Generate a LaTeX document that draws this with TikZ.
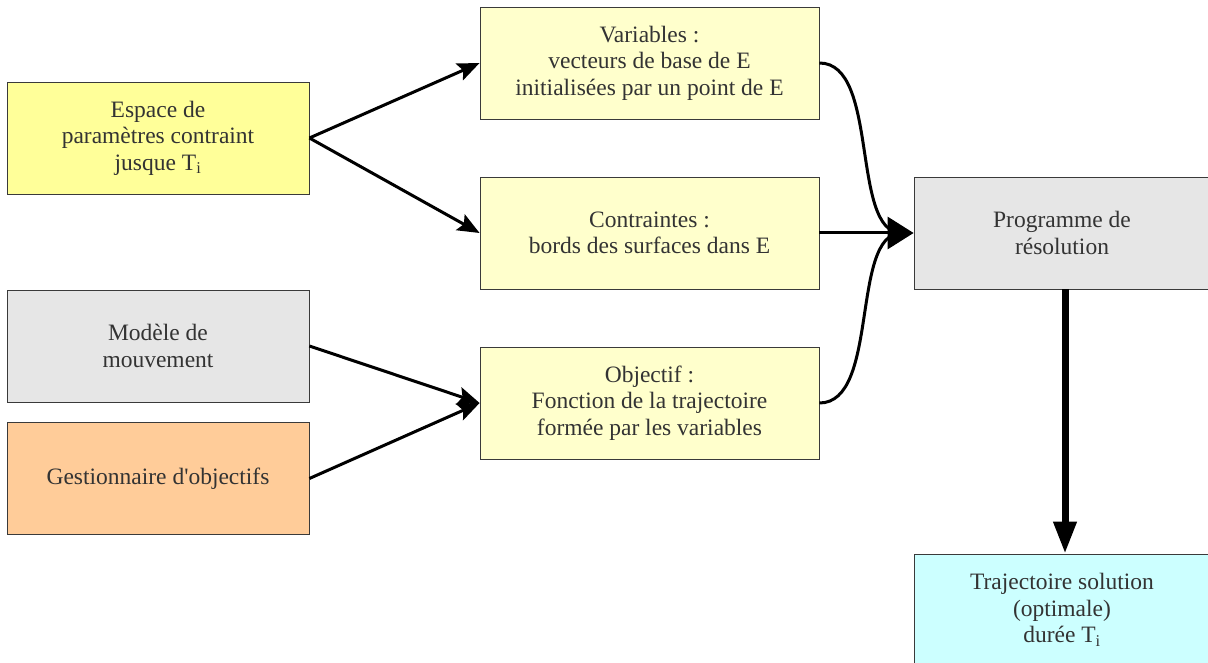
\documentclass[tikz,border=0pt]{standalone}
\usepackage{fontspec}
\setmainfont{Liberation Serif}
\usetikzlibrary{arrows.meta}
\definecolor{txt}{HTML}{333333}
\definecolor{bord}{HTML}{3A3A3A}
\definecolor{yel}{HTML}{FFFF99}
\definecolor{lyel}{HTML}{FFFFCC}
\definecolor{gry}{HTML}{E6E6E6}
\definecolor{org}{HTML}{FFCC99}
\definecolor{cyn}{HTML}{CCFFFF}
\tikzset{
  box/.style={draw=bord, line width=0.8pt, rectangle, minimum width=302pt, minimum height=112pt,
    inner sep=0pt, align=center, text=txt, font=\fontsize{23.5}{26.5}\selectfont},
  conn/.style={line width=3pt, -{Stealth[length=22pt,width=18pt,inset=4pt]}},
  plain/.style={line width=3pt},
}
\begin{document}
\begin{tikzpicture}[x=1pt,y=-1pt]
\useasboundingbox[fill=white] (0,0) rectangle (1208,663);
\node[box, fill=yel] (esp) at (158,138) {Espace de\\paramètres contraint\\jusque T\textsubscript{i}};
\node[box, fill=gry] (mod) at (158,346) {Modèle de\\mouvement};
\node[box, fill=org] (ges) at (158,478.5) {Gestionnaire d\textquotesingle objectifs};
\node[box, fill=lyel, minimum width=339pt] (var) at (649.5,63) {Variables :\\vecteurs de base de E\\initialisées par un point de E};
\node[box, fill=lyel, minimum width=339pt] (con) at (649.5,233) {Contraintes :\\bords des surfaces dans E};
\node[box, fill=lyel, minimum width=339pt] (obj) at (649.5,403) {Objectif :\\Fonction de la trajectoire\\formée par les variables};
\node[box, fill=gry, minimum width=296pt] (prg) at (1062,233) {Programme de\\résolution};
\node[box, fill=cyn, minimum width=296pt] (tra) at (1062,610) {Trajectoire solution\\(optimale)\\durée T\textsubscript{i}};
\draw[conn] (esp.east) -- (var.west);
\draw[conn] (esp.east) -- (con.west);
\draw[conn] (mod.east) -- (obj.west);
\draw[conn] (ges.east) -- (obj.west);
\draw[plain] (var.east) .. controls (880,63) and (850,233) .. ([xshift=-12pt]prg.west);
\draw[plain] (obj.east) .. controls (880,403) and (850,233) .. ([xshift=-12pt]prg.west);
\draw[line width=3pt, -{Triangle[length=26pt,width=32pt]}] (con.east) -- (prg.west);
\draw[line width=7pt, -{Triangle[length=32pt,width=22pt]}] (prg.south -| 1065,0) -- (tra.north -| 1065,0);
\end{tikzpicture}
\end{document}
